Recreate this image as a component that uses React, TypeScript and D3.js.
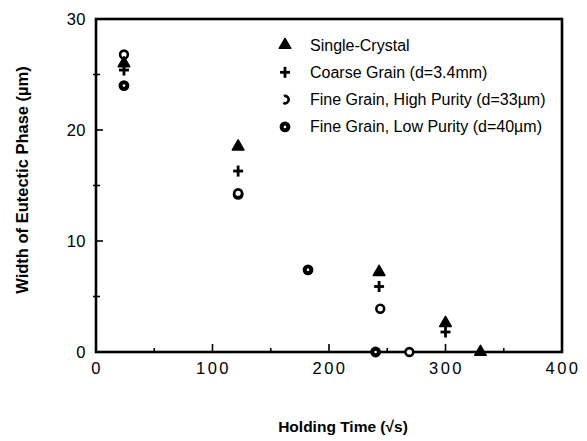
import React from "react";
import * as d3 from "d3";

// Eutectic phase width vs. holding time, four specimen types
const singleCrystal: [number, number][] = [[24, 26.0], [122, 18.5], [243, 7.2], [300, 2.6], [330, 0]];
const coarseGrain: [number, number][] = [[24, 25.4], [122, 16.3], [243, 5.9], [300, 1.8]];
const fineHighPurity: [number, number][] = [[24, 26.8], [122, 14.3], [244, 3.9], [269, 0]];
const fineLowPurity: [number, number][] = [[24, 24.0], [122, 14.2], [182, 7.4], [240, 0]];

const legendLabels = [
  "Single-Crystal",
  "Coarse Grain (d=3.4mm)",
  "Fine Grain, High Purity (d=33\u00b5m)",
  "Fine Grain, Low Purity (d=40\u00b5m)",
];

const xTicks = [0, 100, 200, 300, 400];
const xMinorTicks = [50, 150, 250, 350];
const yTicks = [0, 10, 20, 30];
const yMinorTicks = [5, 15, 25];

const W = 587;
const H = 441;
const left = 96;
const right = 562;
const top = 19;
const bottom = 352;

const x = d3.scaleLinear().domain([0, 400]).range([left, right]);
const y = d3.scaleLinear().domain([0, 30]).range([bottom, top]);

const FONT = "'Liberation Sans', Arial, Helvetica, sans-serif";

type Kind = "triangle" | "plus" | "open" | "filled" | "openLegend";

function Marker({ kind, cx, cy }: { kind: Kind; cx: number; cy: number }) {
  if (kind === "triangle") {
    const tri = d3.symbol().type(d3.symbolTriangle).size(58)();
    return <path d={tri || ""} transform={`translate(${cx},${cy})`} fill="#000" stroke="#000" strokeWidth={1.5} strokeLinejoin="round" />;
  }
  if (kind === "plus") {
    return (
      <g stroke="#000" strokeWidth={2.8}>
        <line x1={cx - 5} x2={cx + 5} y1={cy} y2={cy} />
        <line x1={cx} x2={cx} y1={cy - 5.5} y2={cy + 5.5} />
      </g>
    );
  }
  if (kind === "open") {
    return <circle cx={cx} cy={cy} r={3.9} fill="#fff" stroke="#000" strokeWidth={2.6} />;
  }
  if (kind === "openLegend") {
    const arc = d3.arc()({ innerRadius: 2.4, outerRadius: 5, startAngle: -Math.PI * 0.1, endAngle: Math.PI * 1.15 } as any);
    return <path d={arc || ""} transform={`translate(${cx},${cy})`} fill="#000" />;
  }
  return (
    <g>
      <circle cx={cx} cy={cy} r={5.4} fill="#000" />
      <circle cx={cx} cy={cy} r={1.3} fill="#fff" />
    </g>
  );
}

const series: { data: [number, number][]; kind: Kind; legendKind: Kind }[] = [
  { data: fineLowPurity, kind: "filled", legendKind: "filled" },
  { data: fineHighPurity, kind: "open", legendKind: "openLegend" },
  { data: coarseGrain, kind: "plus", legendKind: "plus" },
  { data: singleCrystal, kind: "triangle", legendKind: "triangle" },
];

export default function App() {
  const legendOrder = [series[3], series[2], series[1], series[0]];
  return (
    <svg width={W} height={H} style={{ position: "absolute", left: 0, top: 0, background: "#fff" }} fontFamily={FONT}>
      <rect width={W} height={H} fill="#fff" />

      {/* minor and major ticks, pointing inward */}
      <g stroke="#000" strokeWidth={1.6}>
        {xTicks.slice(1, -1).map((t) => (
          <line key={"xt" + t} x1={x(t)} x2={x(t)} y1={bottom} y2={bottom - 8} />
        ))}
        {xMinorTicks.map((t) => (
          <line key={"xm" + t} x1={x(t)} x2={x(t)} y1={bottom} y2={bottom - 4} />
        ))}
        {yTicks.slice(1, -1).map((t) => (
          <line key={"yt" + t} x1={left} x2={left + 7} y1={y(t)} y2={y(t)} />
        ))}
        {yMinorTicks.map((t) => (
          <line key={"ym" + t} x1={left - 3} x2={left + 4} y1={y(t)} y2={y(t)} />
        ))}
      </g>

      {/* frame */}
      <rect x={left} y={top} width={right - left} height={bottom - top} fill="none" stroke="#000" strokeWidth={2.6} />

      {/* tick labels */}
      <g fontSize={16.5} fill="#000">
        {xTicks.map((t) => (
          <text key={"xl" + t} x={x(t) + 1} y={374} textAnchor="middle" letterSpacing={2.5}>
            {t}
          </text>
        ))}
        {yTicks.map((t) => (
          <text key={"yl" + t} x={86} y={y(t) + 6} textAnchor="end" letterSpacing={0.5}>
            {t}
          </text>
        ))}
      </g>

      {/* axis titles */}
      <text x={343} y={432} textAnchor="middle" fontSize={15.5} fontWeight="bold">
        Holding Time (√s)
      </text>
      <text transform={`translate(28,180) rotate(-90)`} textAnchor="middle" fontSize={16.5} fontWeight="bold">
        Width of Eutectic Phase (µm)
      </text>

      {/* data markers */}
      {series.map((s, i) => (
        <g key={"s" + i}>
          {s.data.map(([dx, dy], j) => (
            <Marker key={j} kind={s.kind} cx={x(dx)} cy={y(dy)} />
          ))}
        </g>
      ))}

      {/* legend */}
      {legendOrder.map((s, i) => {
        const ly = 45 + i * 27.3;
        return (
          <g key={"lg" + i}>
            <Marker kind={s.legendKind} cx={285} cy={ly} />
            <text x={310} y={ly + 5.5} fontSize={16}>
              {legendLabels[i]}
            </text>
          </g>
        );
      })}
    </svg>
  );
}
